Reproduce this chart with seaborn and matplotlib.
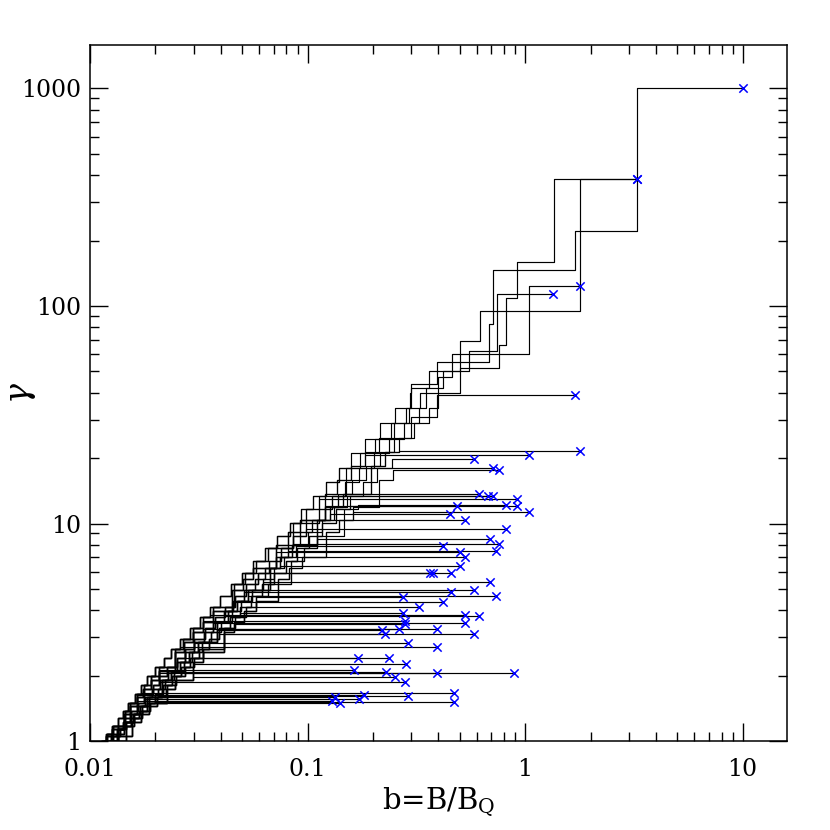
import pandas as pd
import seaborn as sns
import matplotlib.pyplot as plt
from matplotlib.ticker import NullFormatter, LogLocator

# staircase ladders: (b, gamma) corners, horizontal step first then vertical
ladder_0 = [(0.0112, 1.00), (0.0119, 1.08), (0.0126, 1.17), (0.0134, 1.27), (0.0142, 1.38),
            (0.0150, 1.50), (0.0161, 1.64), (0.0171, 1.80), (0.0183, 1.98), (0.0200, 2.18),
            (0.0218, 2.40), (0.0237, 2.65), (0.0259, 2.95), (0.0287, 3.30), (0.0319, 3.70),
            (0.0355, 4.15), (0.0394, 4.65), (0.0445, 5.25), (0.0500, 5.95), (0.0563, 6.75),
            (0.0636, 7.70), (0.0721, 8.80), (0.0828, 10.1), (0.0935, 11.6), (0.106, 13.4),
            (0.121, 15.5), (0.139, 18.0), (0.159, 21.0), (0.183, 24.5), (0.215, 29.0),
            (0.252, 34.0), (0.296, 40.0), (0.348, 47.0), (0.415, 56.0)]
ladder_1 = [(0.0116, 1.00), (0.0119, 1.05), (0.0126, 1.13), (0.0143, 1.33), (0.0153, 1.45),
            (0.0164, 1.59), (0.0176, 1.74), (0.0191, 1.91), (0.0208, 2.10), (0.0247, 2.57),
            (0.0271, 2.85), (0.0299, 3.17), (0.0330, 3.53), (0.0366, 3.95), (0.0450, 4.95),
            (0.0505, 5.55), (0.0563, 6.25), (0.0714, 8.00), (0.0813, 9.10), (0.0920, 10.4),
            (0.120, 13.7), (0.137, 15.8), (0.158, 18.3), (0.184, 21.3), (0.214, 24.8),
            (0.250, 29.0), (0.293, 34.0), (0.345, 40.0), (0.405, 47.0)]
ladder_2 = [(0.0119, 1.00), (0.0126, 1.08), (0.0135, 1.17), (0.0144, 1.27), (0.0155, 1.38),
            (0.0167, 1.50), (0.0178, 1.64), (0.0194, 1.80), (0.0208, 1.98), (0.0227, 2.18),
            (0.0250, 2.40), (0.0273, 2.65), (0.0301, 2.95), (0.0337, 3.30), (0.0374, 3.70),
            (0.0419, 4.15), (0.0465, 4.65), (0.0520, 5.25), (0.0589, 5.95), (0.0662, 6.75),
            (0.0755, 7.70), (0.0854, 8.80), (0.0981, 10.1), (0.113, 11.6), (0.129, 13.4),
            (0.149, 15.5), (0.173, 18.0), (0.202, 21.0), (0.236, 24.5), (0.279, 29.0),
            (0.327, 34.0), (0.385, 40.0), (0.452, 47.0)]
ladder_3 = [(0.0122, 1.00), (0.0135, 1.13), (0.0144, 1.22), (0.0157, 1.33), (0.0169, 1.45),
            (0.0183, 1.59), (0.0215, 1.91), (0.0236, 2.10), (0.0258, 2.32), (0.0286, 2.57),
            (0.0313, 2.85), (0.0384, 3.53), (0.0429, 3.95), (0.0475, 4.42), (0.0532, 4.95),
            (0.0672, 6.25), (0.0750, 7.05), (0.0851, 8.00), (0.111, 10.4), (0.127, 11.9),
            (0.146, 13.7), (0.195, 18.3), (0.227, 21.3), (0.264, 24.8), (0.309, 29.0),
            (0.362, 34.0), (0.426, 40.0)]
ladder_4 = [(0.0125, 1.00), (0.0133, 1.08), (0.0144, 1.17), (0.0155, 1.27), (0.0168, 1.38),
            (0.0183, 1.50), (0.0200, 1.64), (0.0217, 1.80), (0.0239, 1.98), (0.0263, 2.18),
            (0.0289, 2.40), (0.0316, 2.65), (0.0351, 2.95), (0.0393, 3.30), (0.0441, 3.70),
            (0.0488, 4.15), (0.0547, 4.65), (0.0618, 5.25), (0.0700, 5.95), (0.0794, 6.75),
            (0.0895, 7.70), (0.102, 8.80), (0.117, 10.1), (0.135, 11.6), (0.156, 13.4),
            (0.180, 15.5), (0.209, 18.0), (0.244, 21.0), (0.285, 24.5), (0.337, 29.0)]
ladder_5 = [(0.0128, 1.00), (0.0135, 1.05), (0.0156, 1.22), (0.0171, 1.33), (0.0186, 1.45),
            (0.0204, 1.59), (0.0223, 1.74), (0.0245, 1.91), (0.0297, 2.32), (0.0330, 2.57),
            (0.0412, 3.17), (0.0458, 3.53), (0.0513, 3.95), (0.0582, 4.42), (0.0730, 5.55),
            (0.0822, 6.25), (0.0940, 7.05), (0.121, 9.10), (0.139, 10.4), (0.161, 11.9),
            (0.214, 15.8), (0.247, 18.3), (0.288, 21.3), (0.335, 24.8)]
ladder_6 = [(0.0114, 1.00), (0.0120, 1.08), (0.0127, 1.17), (0.0145, 1.38), (0.0153, 1.50),
            (0.0164, 1.64), (0.0177, 1.80), (0.0190, 1.98), (0.0208, 2.18), (0.0245, 2.65),
            (0.0268, 2.95), (0.0297, 3.30), (0.0330, 3.70), (0.0367, 4.15), (0.0461, 5.25),
            (0.0517, 5.95), (0.0582, 6.75), (0.0658, 7.70), (0.0856, 10.1), (0.0983, 11.6),
            (0.113, 13.4), (0.150, 18.0), (0.175, 21.0), (0.204, 24.5), (0.242, 29.0),
            (0.283, 34.0)]
ladder_7 = [(0.0121, 1.00), (0.0125, 1.05), (0.0133, 1.13), (0.0142, 1.22), (0.0153, 1.33),
            (0.0165, 1.45), (0.0179, 1.59), (0.0193, 1.74), (0.0210, 1.91), (0.0228, 2.10),
            (0.0250, 2.32), (0.0273, 2.57), (0.0300, 2.85), (0.0334, 3.17), (0.0368, 3.53),
            (0.0412, 3.95), (0.0456, 4.42), (0.0510, 4.95), (0.0572, 5.55), (0.0638, 6.25),
            (0.0719, 7.05), (0.0816, 8.00), (0.0919, 9.10), (0.105, 10.4), (0.120, 11.9),
            (0.138, 13.7), (0.160, 15.8), (0.185, 18.3), (0.215, 21.3), (0.251, 24.8)]
ladder_8 = [(0.0127, 1.00), (0.0146, 1.17), (0.0159, 1.27), (0.0173, 1.38), (0.0188, 1.50),
            (0.0225, 1.80), (0.0248, 1.98), (0.0273, 2.18), (0.0300, 2.40), (0.0331, 2.65),
            (0.0413, 3.30), (0.0463, 3.70), (0.0519, 4.15), (0.0581, 4.65), (0.0656, 5.25),
            (0.0844, 6.75), (0.0963, 7.70), (0.111, 8.80), (0.147, 11.6), (0.170, 13.4),
            (0.196, 15.5), (0.228, 18.0), (0.266, 21.0), (0.310, 24.5)]
ladder_9 = [(0.0124, 1.00), (0.0128, 1.05), (0.0138, 1.13), (0.0147, 1.22), (0.0160, 1.33),
            (0.0173, 1.45), (0.0187, 1.59), (0.0205, 1.74), (0.0222, 1.91), (0.0244, 2.10),
            (0.0270, 2.32), (0.0295, 2.57), (0.0328, 2.85), (0.0360, 3.17), (0.0401, 3.53),
            (0.0449, 3.95), (0.0497, 4.42), (0.0556, 4.95), (0.0624, 5.55), (0.0702, 6.25),
            (0.0783, 7.05), (0.0889, 8.00), (0.101, 9.10), (0.116, 10.4), (0.132, 11.9),
            (0.152, 13.7), (0.176, 15.8), (0.203, 18.3), (0.237, 21.3), (0.276, 24.8)]
ladders = [ladder_0, ladder_1, ladder_2, ladder_3, ladder_4,
           ladder_5, ladder_6, ladder_7, ladder_8, ladder_9]

# the long tracks at the top: ladder used low down, then their own steps
top_ladder = [0, 1, 2, 3, 6, 7]
top_tail = [
    [(0.30, 42), (0.36, 50), (0.50, 69), (0.62, 95), (1.79, 385), (3.27, 1000), (10.0, 1000)],
    [(0.30, 44), (0.393, 55), (0.68, 83), (0.714, 146), (1.70, 222), (3.27, 385)],
    [(0.33, 40), (0.50, 52), (0.76, 66), (0.82, 109), (0.92, 159), (1.36, 385), (3.27, 385)],
    [(0.40, 47), (0.46, 60), (1.04, 123), (1.79, 123)],
    [(0.35, 42), (0.42, 50), (0.55, 62), (0.74, 113), (1.35, 113)],
    [(0.30, 31), (0.393, 39.1), (1.70, 39.1)],
]

# the other tracks: end point (b, gamma) and ladder used
end_b = [1.79, 1.04, 0.583, 0.714, 0.757, 0.613, 0.674, 0.714, 0.916, 0.820,
         0.92, 0.487, 0.454, 1.04, 0.532, 0.820, 0.692, 0.757, 0.420, 0.735,
         0.504, 0.530, 0.504, 0.365, 0.379, 0.457, 0.692, 0.457, 0.581, 0.275,
         0.735, 0.420, 0.326, 0.276, 0.530, 0.615, 0.280, 0.280, 0.530, 0.393,
         0.262, 0.219, 0.227, 0.581, 0.291, 0.394, 0.171, 0.237, 0.284, 0.163,
         0.230, 0.394, 0.887, 0.253, 0.280, 0.473, 0.291, 0.182, 0.173, 0.134,
         0.130, 0.141, 0.473]
end_gamma = [21.6, 20.7, 19.8, 18.0, 17.7, 13.6, 13.4, 13.4, 13.0, 12.2,
             12.0, 12.0, 11.1, 11.3, 10.4, 9.45, 8.50, 8.03, 7.89, 7.46,
             7.40, 7.00, 6.37, 5.93, 5.93, 5.95, 5.39, 4.85, 4.94, 4.60,
             4.63, 4.34, 4.14, 3.88, 3.79, 3.77, 3.56, 3.44, 3.50, 3.29,
             3.26, 3.23, 3.10, 3.12, 2.81, 2.71, 2.42, 2.42, 2.26, 2.13,
             2.08, 2.06, 2.06, 1.96, 1.87, 1.67, 1.61, 1.62, 1.56, 1.60,
             1.53, 1.50, 1.51]
end_ladder = [3, 1, 4, 0, 5, 2, 7, 9, 6, 8,
              4, 1, 3, 5, 0, 2, 8, 6, 9, 7,
              1, 4, 3, 5, 2, 0, 9, 7, 6, 8,
              3, 1, 5, 4, 0, 2, 6, 8, 7, 9,
              1, 3, 5, 4, 2, 0, 7, 9, 8, 6,
              3, 1, 4, 5, 2, 0, 9, 6, 7, 8,
              1, 3, 4]

rows = []
mark_b, mark_g = [], []
track = 0
for h, tail in zip(top_ladder, top_tail):
    head = [p for p in ladders[h] if p[1] < tail[0][1] and p[0] < tail[0][0]]
    for b, g in head + tail:
        rows.append((track, b, g))
    mark_b.append(tail[-1][0])
    mark_g.append(tail[-1][1])
    track += 1

for be, ge, li in zip(end_b, end_gamma, end_ladder):
    lad = ladders[li]
    head = [p for p in lad if p[1] < ge]
    step_b = lad[len(head)][0]
    for b, g in head + [(step_b, ge), (be, ge)]:
        rows.append((track, b, g))
    mark_b.append(be)
    mark_g.append(ge)
    track += 1

df = pd.DataFrame(rows, columns=['track', 'b', 'gamma'])

sns.set_style('ticks', {'axes.edgecolor': 'black', 'text.color': 'black',
                        'xtick.color': 'black', 'ytick.color': 'black',
                        'axes.labelcolor': 'black'})
plt.rcParams['font.family'] = ['DejaVu Serif']
plt.rcParams['mathtext.fontset'] = 'dejavuserif'

fig = plt.figure(figsize=(8.3, 8.3), dpi=100)
ax = fig.add_axes([0.1084, 0.1072, 0.8398, 0.8386])
ax.set_xscale('log')
ax.set_yscale('log')

sns.lineplot(data=df, x='b', y='gamma', units='track', estimator=None, sort=False,
             drawstyle='steps-post', color='black', lw=0.85, ax=ax)
sns.scatterplot(x=mark_b, y=mark_g, marker='x', color='blue', s=36, linewidth=1.1,
                ax=ax, zorder=3)

ax.set_xlim(0.01, 16)
ax.set_ylim(1, 1585)
ax.set_xticks([0.01, 0.1, 1, 10])
ax.set_xticklabels(['0.01', '0.1', '1', '10'])
ax.set_yticks([1, 10, 100, 1000])
ax.set_yticklabels(['1', '10', '100', '1000'])
ax.xaxis.set_minor_locator(LogLocator(base=10, subs=range(2, 10)))
ax.yaxis.set_minor_locator(LogLocator(base=10, subs=range(2, 10)))
ax.xaxis.set_minor_formatter(NullFormatter())
ax.yaxis.set_minor_formatter(NullFormatter())
ax.tick_params(which='both', direction='in', top=True, right=True, width=1,
               labelsize=17, colors='black')
ax.tick_params(which='major', length=13)
ax.tick_params(axis='x', which='major', pad=12)
ax.tick_params(axis='y', which='major', pad=6)
ax.tick_params(which='minor', length=6.5)
for s in ax.spines.values():
    s.set_linewidth(1.1)
    s.set_color('black')

ax.set_xlabel('b=B/B$_\\mathrm{Q}$', fontsize=21)
ax.xaxis.set_label_coords(0.5, -0.064)
ax.set_ylabel('$\\gamma$', fontsize=24)
ax.yaxis.set_label_coords(-0.075, 0.5)

fig.savefig('out.png', dpi=100)
